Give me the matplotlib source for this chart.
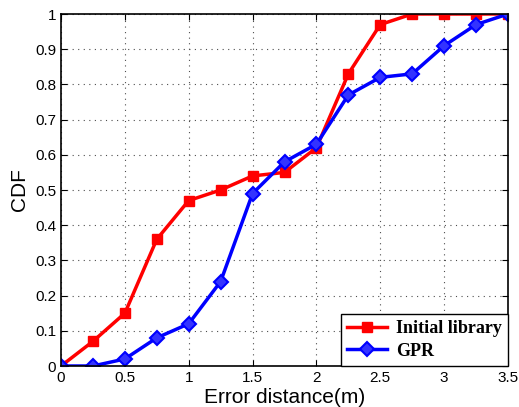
import numpy as np
import matplotlib
matplotlib.use('Agg')
import matplotlib.pyplot as plt

# dados
x = [0, 0.25, 0.5, 0.75, 1.0, 1.25, 1.5, 1.75, 2.0, 2.25, 2.5, 2.75, 3.0, 3.25, 3.5]
initial = [0, 0.07, 0.15, 0.36, 0.47, 0.50, 0.54, 0.55, 0.62, 0.83, 0.97, 1.0, 1.0, 1.0, 1.0]
gpr = [0, 0, 0.02, 0.08, 0.12, 0.24, 0.49, 0.58, 0.63, 0.77, 0.82, 0.83, 0.91, 0.97, 1.0]
xticks = [0, 0.5, 1, 1.5, 2, 2.5, 3, 3.5]
xticklabels = ['0', '0.5', '1', '1.5', '2', '2.5', '3', '3.5']
yticks = [0, 0.1, 0.2, 0.3, 0.4, 0.5, 0.6, 0.7, 0.8, 0.9, 1]
yticklabels = ['0', '0.1', '0.2', '0.3', '0.4', '0.5', '0.6', '0.7', '0.8', '0.9', '1']

plt.rcParams['font.family'] = ['Liberation Sans', 'DejaVu Sans']

fig = plt.figure(figsize=(5.19, 4.07), dpi=100)
ax = fig.add_axes([61/519, 1 - 366/407, 447/519, 352/407])

ax.plot(x, initial, color='red', lw=2.5, marker='s', ms=7, label='Initial library')
ax.plot(x, gpr, color='blue', lw=2.5, marker='D', ms=7, mew=1.5, mfc='#3333ff', label='GPR')

ax.set_xlim(0, 3.5)
ax.set_ylim(0, 1)
ax.set_xticks(xticks)
ax.set_xticklabels(xticklabels)
ax.set_yticks(yticks)
ax.set_yticklabels(yticklabels)
ax.tick_params(direction='in', labelsize=11, length=4, top=True, right=True)
ax.grid(True, linestyle=(0, (1, 4)), color='0.3', lw=0.8)
for s in ax.spines.values():
    s.set_linewidth(1.2)

ax.set_xlabel('Error distance(m)', fontsize=15, labelpad=2)
ax.set_ylabel('CDF', fontsize=15, labelpad=4)

leg = ax.legend(loc='lower right', prop={'family': 'Liberation Serif', 'weight': 'bold', 'size': 13},
                fancybox=False, edgecolor='black', framealpha=1, borderaxespad=0,
                handlelength=2.2, borderpad=0.35, labelspacing=0.3, handletextpad=0.5)
leg.get_frame().set_linewidth(1.0)

plt.savefig('out.png', dpi=100)
